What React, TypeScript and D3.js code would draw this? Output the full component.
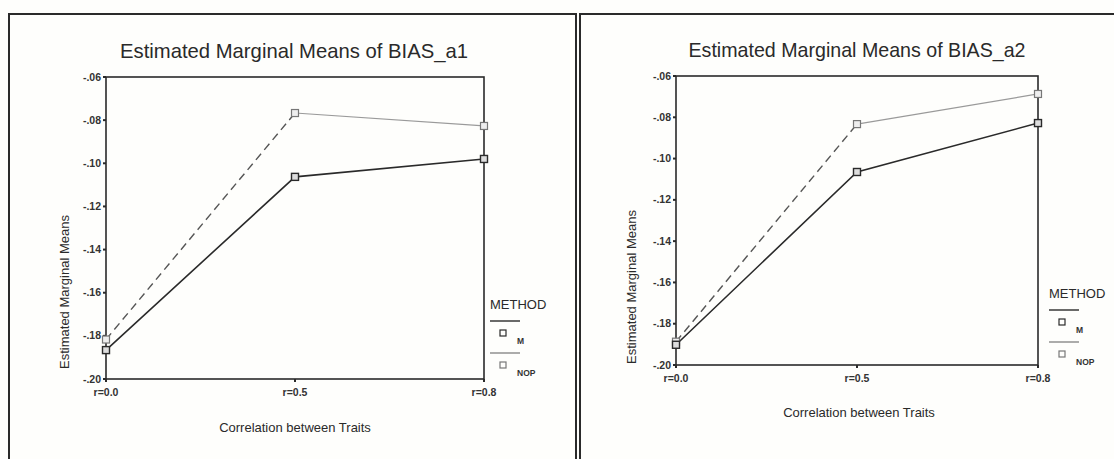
import React from "react";
import * as d3 from "d3";

const categories = ["r=0.0", "r=0.5", "r=0.8"];
const yTickValues = [-0.06, -0.08, -0.1, -0.12, -0.14, -0.16, -0.18, -0.2];
const yTickLabels = ["-.06", "-.08", "-.10", "-.12", "-.14", "-.16", "-.18", "-.20"];
const seriesNames = ["M", "NOP"];

const a1M = [-0.1866, -0.1063, -0.098];
const a1NOP = [-0.1817, -0.0767, -0.0827];
const a2M = [-0.1902, -0.1065, -0.0828];
const a2NOP = [-0.1887, -0.0833, -0.0687];

const titles = ["Estimated Marginal Means of BIAS_a1", "Estimated Marginal Means of BIAS_a2"];
const xTitle = "Correlation between Traits";
const yTitle = "Estimated Marginal Means";
const legendTitle = "METHOD";

const FONT = "'Liberation Sans', Arial, sans-serif";
const DARK = "#2a2a2a";

type PanelProps = {
  left: number; right: number; top: number; bottom: number;
  titleX: number; titleY: number; titleLen: number;
  yTitleX: number; yTitleY: number;
  xTitleX: number; xTitleY: number;
  legendX: number; legendY: number;
  m: number[]; nop: number[]; title: string;
};

function Panel(p: PanelProps) {
  const x = d3.scalePoint<string>().domain(categories).range([p.left, p.right]);
  const y = d3.scaleLinear().domain([-0.2, -0.06]).range([p.bottom, p.top]);
  const pts = (vals: number[]) => vals.map((v, i) => [x(categories[i]) as number, y(v)] as [number, number]);
  const line = d3.line<[number, number]>();
  const mPts = pts(p.m);
  const nPts = pts(p.nop);
  const sq = 7;
  return (
    <g>
      <text x={p.titleX} y={p.titleY} textAnchor="middle" fontFamily={FONT} fontSize={21} fill={DARK}
        textLength={p.titleLen} lengthAdjust="spacingAndGlyphs">{p.title}</text>
      <rect x={p.left} y={p.top} width={p.right - p.left} height={p.bottom - p.top} fill="none" stroke={DARK} strokeWidth={1.6} />
      {yTickValues.map((v, i) => (
        <g key={i}>
          <line x1={p.left - 3} x2={p.left} y1={y(v)} y2={y(v)} stroke={DARK} strokeWidth={2} />
          <text x={p.left - 5} y={y(v) + 3.5} textAnchor="end" fontFamily={FONT} fontSize={10.5} fontWeight="bold" fill="#333">{yTickLabels[i]}</text>
        </g>
      ))}
      {categories.map((c) => (
        <g key={c}>
          <line x1={x(c)} x2={x(c)} y1={p.bottom} y2={p.bottom + 3} stroke={DARK} strokeWidth={2} />
          <text x={x(c)} y={p.bottom + 17} textAnchor="middle" fontFamily={FONT} fontSize={10.5} fontWeight="bold" fill="#333">{c}</text>
        </g>
      ))}
      <text transform={`translate(${p.yTitleX},${p.yTitleY}) rotate(-90)`} textAnchor="middle" fontFamily={FONT} fontSize={13} fill={DARK}>{yTitle}</text>
      <text x={p.xTitleX} y={p.xTitleY} textAnchor="middle" fontFamily={FONT} fontSize={13} fill={DARK}>{xTitle}</text>
      <path d={line(nPts.slice(0, 2)) || ""} fill="none" stroke="#555" strokeWidth={1.4} strokeDasharray="8,5" />
      <path d={line(nPts.slice(1)) || ""} fill="none" stroke="#9a9a9a" strokeWidth={1.2} />
      <path d={line(mPts) || ""} fill="none" stroke={DARK} strokeWidth={1.6} />
      {nPts.map((pt, i) => (
        <rect key={"n" + i} x={pt[0] - sq / 2} y={pt[1] - sq / 2} width={sq} height={sq} fill="#eee" stroke="#777" strokeWidth={1.2} />
      ))}
      {mPts.map((pt, i) => (
        <rect key={"m" + i} x={pt[0] - sq / 2} y={pt[1] - sq / 2} width={sq} height={sq} fill="#ddd" stroke={DARK} strokeWidth={1.4} />
      ))}
      <g transform={`translate(${p.legendX},${p.legendY})`}>
        <text x={0} y={0} fontFamily={FONT} fontSize={13} fill={DARK}>{legendTitle}</text>
        {seriesNames.map((s, i) => (
          <g key={s} transform={`translate(0,${12 + i * 32})`}>
            <line x1={0} x2={30} y1={0} y2={0} stroke={i === 0 ? DARK : "#888"} strokeWidth={1.4} />
            <rect x={10} y={9} width={6} height={6} fill="none" stroke={i === 0 ? DARK : "#777"} strokeWidth={1.2} />
            <text x={27} y={23} fontFamily={FONT} fontSize={8.5} fontWeight="bold" fill="#333">{s}</text>
          </g>
        ))}
      </g>
    </g>
  );
}

export default function App() {
  return (
    <svg width={1114} height={459} style={{ position: "absolute", left: 0, top: 0, background: "#fff" }}>
      <rect x={0} y={0} width={1114} height={459} fill="#fefefc" />
      <path d="M9,470 V14 H576 V470" fill="none" stroke={DARK} strokeWidth={2} />
      <path d="M580,470 V14 H1120" fill="none" stroke={DARK} strokeWidth={2} />
      <Panel left={106} right={484} top={77} bottom={379}
        titleX={294} titleY={58} titleLen={348}
        yTitleX={69} yTitleY={292}
        xTitleX={295} xTitleY={432}
        legendX={490} legendY={309}
        m={a1M} nop={a1NOP} title={titles[0]} />
      <Panel left={676} right={1038} top={76} bottom={365}
        titleX={857} titleY={57} titleLen={337}
        yTitleX={636} yTitleY={287}
        xTitleX={859} xTitleY={417}
        legendX={1049} legendY={298}
        m={a2M} nop={a2NOP} title={titles[1]} />
    </svg>
  );
}
